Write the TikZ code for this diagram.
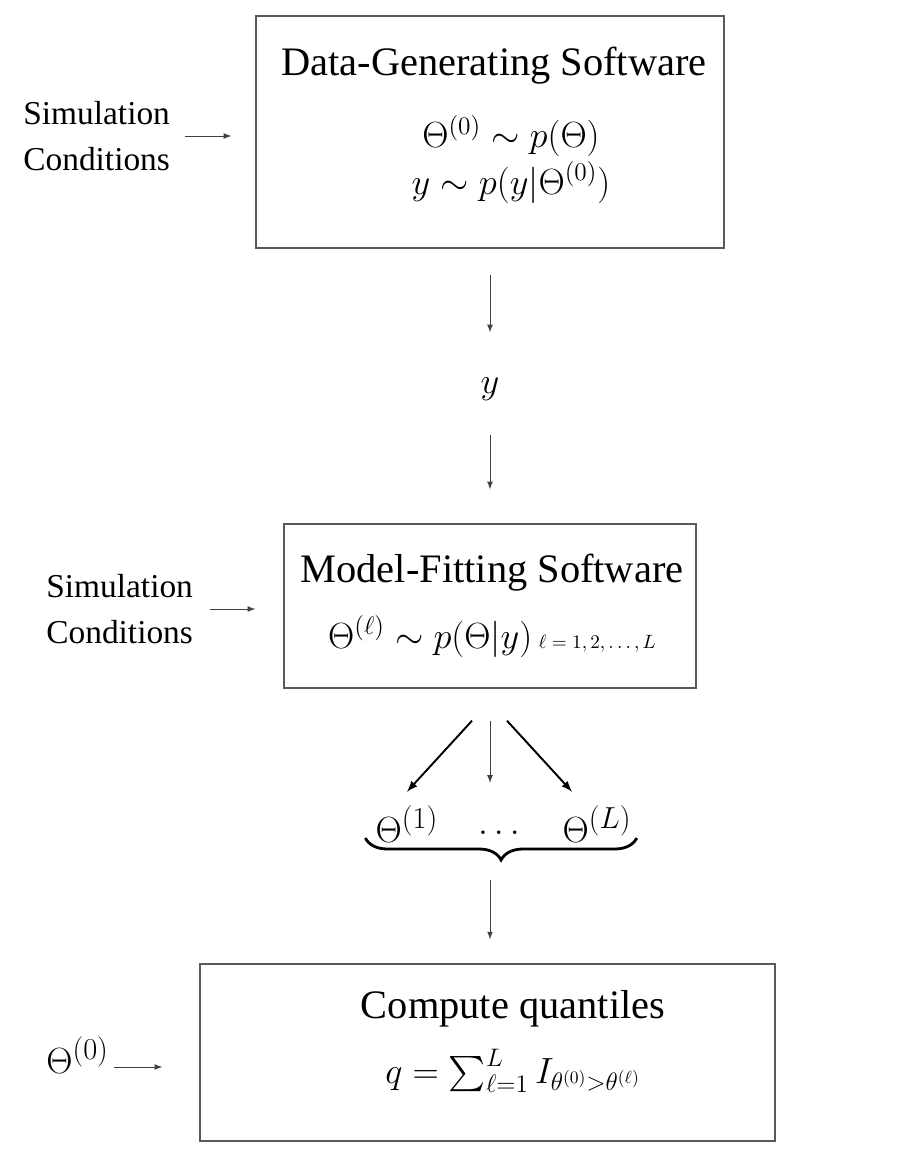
\documentclass[tikz,border=0pt]{standalone}
\usepackage{amsmath,amssymb}
\usepackage{fontspec}
\setmainfont{Liberation Serif}
\newcommand{\thsup}[2][17]{\Theta^{\mbox{\fontsize{#1}{#1}\selectfont$(#2)$}}}
\usetikzlibrary{positioning,decorations.pathreplacing}

\begin{document}
\begin{tikzpicture}[x=0.2mm,y=-0.2mm,
	box/.style={draw=black!65,line width=0.8pt,inner sep=0pt},
	title/.style={font=\fontsize{23}{28}\selectfont,anchor=base,inner sep=0pt},
	cond/.style={font=\fontsize{19}{26.5}\selectfont,align=left,anchor=west,inner sep=0pt},
	eqn/.style={font=\fontsize{20}{24}\selectfont,anchor=base,inner sep=0pt},
	big/.style={font=\fontsize{22}{26}\selectfont,anchor=base,inner sep=0pt},
	thin/.style={-latex,draw=black!75,line width=0.5pt},
	thick/.style={-latex,line width=1.1pt}]
	\useasboundingbox (0,0) rectangle (896,1162);
	
	\node[box,minimum width=93.6mm,minimum height=46.4mm] (dgs) at (490,132) {};
	\node[title] (dgstitle) at (494,75) {Data-Generating Software};
	\node[eqn] (prior) at (511,148) {$\Theta^{(0)}\sim p(\Theta)$};
	\node[eqn] (lik) at (511,194) {$y\sim p(y|\Theta^{(0)})$};
	\node[cond] (sc1) at (23,136) {Simulation\\Conditions};
	\draw[thin,shorten <=3mm,shorten >=4.8mm] (sc1.east) -- (sc1.east -| dgs.west);
	
	\node[eqn,anchor=center] (ydat) at (490,389) {$y$};
	\draw[thin,shorten <=5.2mm,shorten >=9mm] (dgs.south) -- (ydat.north);
	
	\node[box,minimum width=82.4mm,minimum height=32.8mm] (mfs) at (490,606) {};
	\draw[thin,shorten <=6.8mm,shorten >=6.8mm] (ydat.south) -- (mfs.north);
	\node[title] (mfstitle) at (492,582) {Model-Fitting Software};
	\node[eqn,font=\fontsize{21}{25}\selectfont] (post) at (492,648) {$\Theta^{(\ell)}\sim p(\Theta|y)$\,{\fontsize{11}{13}\selectfont$\ell=1,2,\ldots,L$}};
	\node[cond] (sc2) at (46,609) {Simulation\\Conditions};
	\draw[thin,shorten <=3.4mm,shorten >=5.6mm] (sc2.east) -- (sc2.east -| mfs.west);
	
	\node[big] (th1) at (407,842) {$\thsup{1}$};
	\node[big] (thdots) at (502,834) {$\dots$};
	\node[big] (thL) at (597,842) {$\thsup{L}$};
	\draw[thick] ([shift={(-18,32)}]mfs.south) -- ([shift={(0,-14)}]th1.north);
	\draw[thin] ([shift={(0,32)}]mfs.south) -- ([shift={(0,94)}]mfs.south);
	\draw[thick] ([shift={(17,32)}]mfs.south) -- ([shift={(-25,-14)}]thL.north);
	\draw[line width=1.6pt,decorate,decoration={brace,mirror,amplitude=4.4mm}]
		([shift={(-10,-4)}]th1.base west) -- ([shift={(5,-4)}]thL.base east);
	\coordinate (tip) at (500,860);
	
	\node[box,minimum width=115mm,minimum height=35.4mm] (cq) at (487.5,1052.5) {};
	\draw[thin,shorten <=4mm,shorten >=4.8mm] (tip -| mfs.south) -- (cq.north -| mfs.south);
	\node[title] (cqtitle) at (513,1018) {Compute quantiles};
	\node[eqn] (quant) at (513,1083) {$q=\sum_{\ell=1}^{L} I_{\theta^{(0)}>\theta^{(\ell)}}$};
	\node[big,font=\fontsize{21}{25}\selectfont,anchor=base west] (th0) at (46,1073) {$\thsup[16]{0}$};
	\draw[thin,shorten <=1mm,shorten >=7.4mm] ([yshift=1.2mm]th0.base east) -- ([yshift=1.2mm]th0.base east -| cq.west);
\end{tikzpicture}
\end{document}
